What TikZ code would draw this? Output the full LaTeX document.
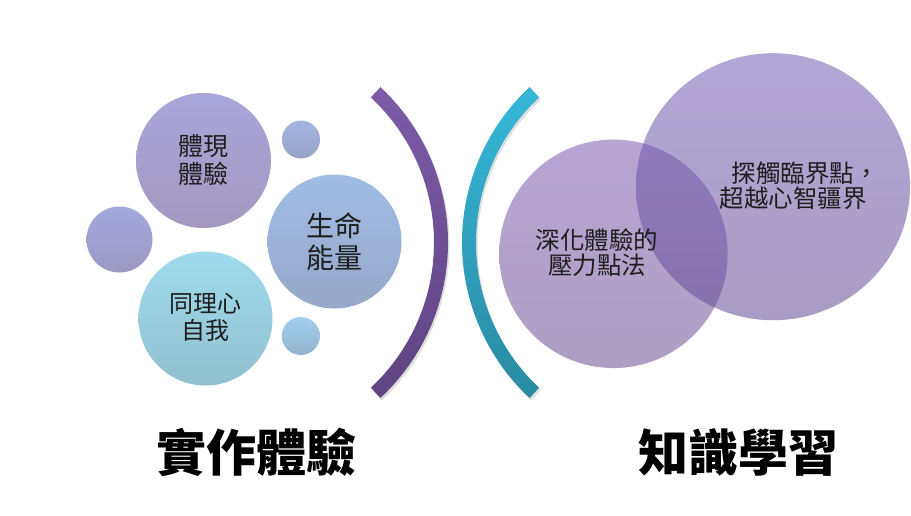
\documentclass[tikz,border=0pt]{standalone}
\usepackage{fontspec}
\newfontfamily\cjk{Noto Sans CJK TC}
\usetikzlibrary{shapes.geometric}
\definecolor{aT}{HTML}{A9A6D9}\definecolor{aB}{HTML}{A498C0}
\definecolor{lT}{HTML}{A5A8DD}\definecolor{lB}{HTML}{9C98C1}
\definecolor{sT}{HTML}{A1BDE4}\definecolor{sB}{HTML}{96A8C9}
\definecolor{uT}{HTML}{A3B5E0}\definecolor{uB}{HTML}{97A4C6}
\definecolor{tT}{HTML}{9EDBEC}\definecolor{tB}{HTML}{92C0D0}
\definecolor{dT}{HTML}{A1CFEC}\definecolor{dB}{HTML}{93B2CD}
\definecolor{pT}{HTML}{7C5CB0}\definecolor{pB}{HTML}{6A5093}
\definecolor{qT}{HTML}{745EB4}\definecolor{qB}{HTML}{624C95}
\definecolor{arcPT}{HTML}{7D5BA8}\definecolor{arcPB}{HTML}{5E4482}
\definecolor{arcTT}{HTML}{36B8D9}\definecolor{arcTB}{HTML}{298AA2}
\definecolor{txt}{HTML}{1E1E1E}
\begin{document}
\begin{tikzpicture}[x=1pt,y=-1pt,
  bubble/.style={circle, inner sep=0pt, draw=none},
  ctext/.style={text=txt, align=center, inner sep=0pt},
  title/.style={text=black, inner sep=0pt, font=\cjk\bfseries\fontsize{50}{56}\selectfont},
  arcshadow/.style={fill=black, fill opacity=0.13}]
\useasboundingbox (0,0) rectangle (911,515);
\fill[white] (0,0) rectangle (911,515);

% left bubbles
\node[bubble, minimum size=135pt, top color=aT, bottom color=aB] (b1) at (203.5,160.5) {};
\node[bubble, minimum size=38pt, top color=uT, bottom color=uB] (b2) at (301,139.5) {};
\node[bubble, minimum size=66pt, top color=lT, bottom color=lB] (b3) at (119.5,239.5) {};
\node[bubble, minimum size=134pt, top color=sT, bottom color=sB] (b4) at (334.5,241.5) {};
\node[bubble, minimum size=134pt, top color=tT, bottom color=tB] (b5) at (205.5,318.5) {};
\node[bubble, minimum size=38pt, top color=dT, bottom color=dB] (b6) at (300.8,336) {};

% arcs
\begin{scope}[shift={(235.5,242.5)}]
  \begin{scope}[shift={(1.5,2.5)}]
  \fill[arcshadow] (-47:212.5pt) arc[start angle=-47,end angle=47,radius=212.5pt] -- (47:198.5pt) arc[start angle=47,end angle=-47,radius=198.5pt] -- cycle;
  \end{scope}
  \shade[top color=arcPT, bottom color=arcPB] (-47:212.5pt) arc[start angle=-47,end angle=47,radius=212.5pt] -- (47:198.5pt) arc[start angle=47,end angle=-47,radius=198.5pt] -- cycle;
\end{scope}
\begin{scope}[shift={(674.5,242.5)}]
  \begin{scope}[shift={(1.5,2.5)}]
  \fill[arcshadow] (133:212.5pt) arc[start angle=133,end angle=227,radius=212.5pt] -- (227:198.5pt) arc[start angle=227,end angle=133,radius=198.5pt] -- cycle;
  \end{scope}
  \shade[top color=arcTT, bottom color=arcTB] (133:212.5pt) arc[start angle=133,end angle=227,radius=212.5pt] -- (227:198.5pt) arc[start angle=227,end angle=133,radius=198.5pt] -- cycle;
\end{scope}

% right bubbles
\node[bubble, minimum size=228.5pt, top color=pT, bottom color=pB, fill opacity=0.55] (c1) at (613.5,253.8) {};
\node[ellipse, inner sep=0pt, minimum width=274pt, minimum height=267pt, top color=qT, bottom color=qB, fill opacity=0.55] (c2) at (773,186.7) {};

% texts
\node[ctext, font=\cjk\fontsize{25}{28}\selectfont] (t1) at (b1.center) {體現\\體驗};
\node[ctext, font=\cjk\fontsize{28}{31.5}\selectfont] (t2) at (b4.center) {生命\\能量};
\node[ctext, font=\cjk\fontsize{24}{26.5}\selectfont] (t3) at (205.5,317.5) {同理心\\自我};
\node[ctext, font=\cjk\fontsize{24.5}{25}\selectfont] (t4) at (597,252.5) {深化體驗的\\壓力點法};
\node[ctext, font=\cjk\fontsize{24.5}{25}\selectfont] (t5) at (793,186) {探觸臨界點\rlap{，}\\超越心智疆界};

\node[title] (h1) at (256,452) {實作體驗};
\node[title] (h2) at (738,452) {知識學習};
\end{tikzpicture}
\end{document}
